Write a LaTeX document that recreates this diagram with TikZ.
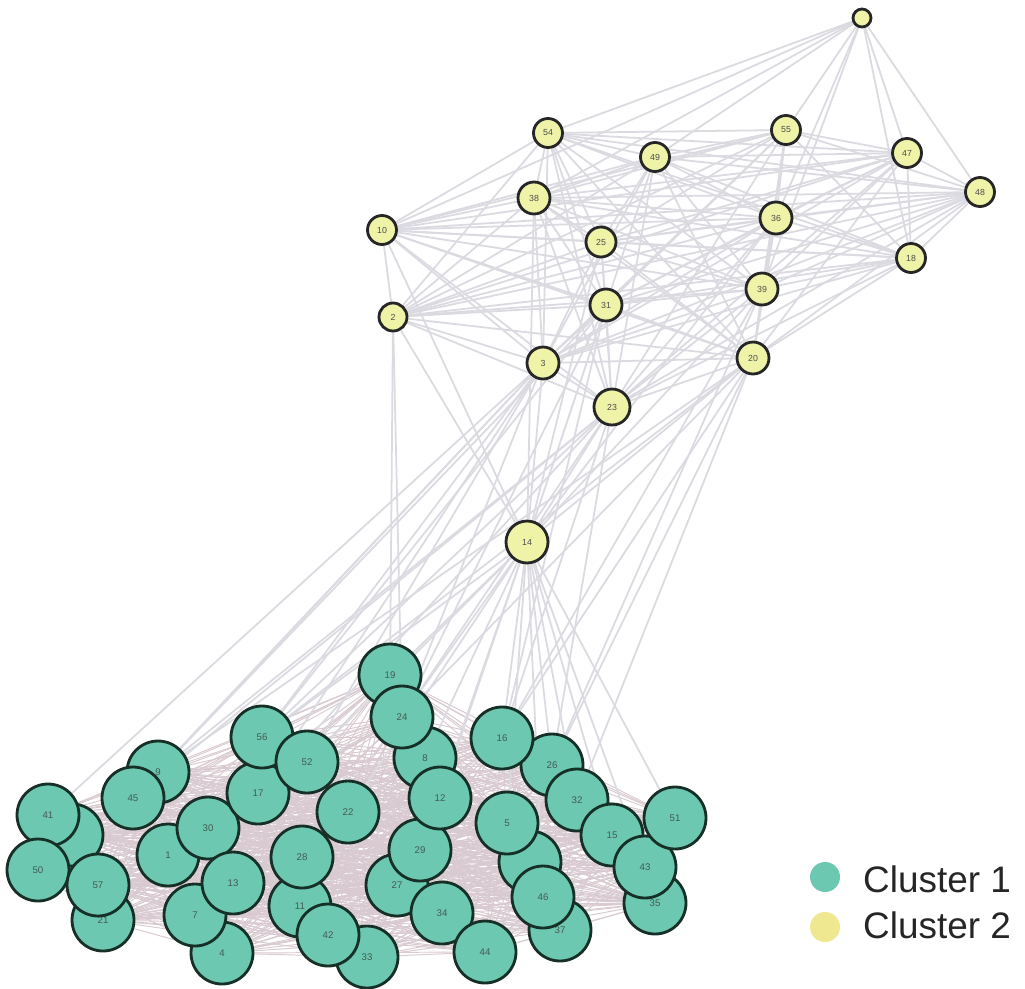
\documentclass[tikz,border=0pt]{standalone}
\usepackage{fontspec}
\setmainfont{Liberation Sans}
\usetikzlibrary{backgrounds}
\definecolor{tealc}{RGB}{108,200,176}
\definecolor{yelc}{RGB}{238,243,168}
\definecolor{legy}{RGB}{240,232,145}
\definecolor{bord}{RGB}{22,48,40}
\definecolor{edgec}{RGB}{218,218,224}
\definecolor{massc}{RGB}{216,202,208}
\begin{document}
\begin{tikzpicture}[x=0.02cm,y=-0.02cm,
  cone/.style={circle,draw=bord,line width=1.6pt,fill=tealc,minimum size=1.24cm,inner sep=0pt,font=\fontsize{5.5}{5.5}\selectfont,text=bord!80},
  ctwo/.style={circle,draw=black!85,line width=1.6pt,fill=yelc,minimum size=0.58cm,inner sep=0pt,font=\fontsize{5}{5}\selectfont,text=black!70},
  eline/.style={draw=edgec,line width=1pt},
  mline/.style={draw=massc,line width=0.55pt},
  legdot/.style={circle,minimum size=0.6cm,inner sep=0pt},
  legtxt/.style={anchor=base west,font=\fontsize{21}{21}\selectfont,text=black!85}]
\useasboundingbox (0,0) rectangle (1025,988);

% cluster 1 nodes (drawing order = stacking)
\foreach \n/\x/\y/\t in {53/72/835/, 41/48/815/41, 50/38/870/50, 21/103/920/21, 57/98/885/57,
  9/158/772/9, 45/133/798/45, 1/168/855/1, 4/222/953/4, 7/195/915/7, 30/208/828/30, 13/233/883/13,
  17/258/793/17, 56/262/737/56, 52/307/762/52, 22/348/812/22, 11/300/906/11, 28/302/857/28,
  33/367/957/33, 42/328/935/42, 19/390/675/19, 8/425/758/8, 24/402/717/24, 27/397/885/27,
  34/442/913/34, 29/420/850/29, 12/440/798/12, 44/485/952/44, 40/530/862/, 5/507/823/5,
  37/560/930/37, 46/543/897/46, 26/552/765/26, 16/502/738/16, 32/577/800/32, 15/612/835/15,
  35/655/903/35, 43/645/867/43, 51/675/818/51}
  \node[cone] (n\n) at (\x,\y) {\t};

% cluster 2 nodes
\foreach \n/\x/\y/\s in {6/862/18/0.36, 54/548/133/0.58, 49/655/157/0.58, 55/786/130/0.58,
  47/907/153/0.58, 48/980/192/0.58, 38/534/198/0.64, 10/382/230/0.58, 25/601/242/0.6,
  36/776/218/0.64, 18/911/258/0.58, 2/393/317/0.56, 31/606/305/0.64, 39/762/289/0.64,
  3/543/363/0.64, 20/753/358/0.64, 23/612/407/0.72, 14/527/542/0.84}
  \node[ctwo,minimum size=\s cm] (n\n) at (\x,\y) {\ifnum\n=6 \else\n\fi};

\def\blist{53,41,50,21,57,9,45,1,4,7,30,13,17,56,52,22,11,28,33,42,19,8,24,27,34,29,12,44,40,5,37,46,26,16,32,15,35,43,51}
\def\tlist{54,49,55,47,48,38,10,25,36,18,2,31,39,3,20,23}

\begin{pgfonlayer}{background}
  % dense edges inside cluster 1
  \foreach \a [count=\i] in \blist {
    \foreach \b [count=\j] in \blist {
      \ifnum\j>\i \draw[mline] (n\a) -- (n\b); \fi
    }
  }
  % dense edges inside cluster 2
  \foreach \a [count=\i] in \tlist {
    \foreach \b [count=\j] in \tlist {
      \ifnum\j>\i \draw[eline] (n\a) -- (n\b); \fi
    }
  }
  \foreach \b in {54,38,10,49,55,36,39,47,48,18}
    \draw[eline] (n6) -- (n\b);
  \foreach \b in {10,2,3,23,31,20,38,25,39,36}
    \draw[eline] (n14) -- (n\b);
  % edges between the clusters
  \foreach \b in {19,24,8,12,16,26,32,51,15,29,56,52,22,5,43,46}
    \draw[eline] (n14) -- (n\b);
  \foreach \b in {19,24}
    \draw[eline] (n2) -- (n\b);
  \foreach \b in {56,9,45,41,17,52,24}
    \draw[eline] (n3) -- (n\b);
  \foreach \b in {56,9,45,17,24,16,26}
    \draw[eline] (n23) -- (n\b);
  \foreach \b in {9,56,24,16}
    \draw[eline] (n31) -- (n\b);
  \foreach \b in {56,9,24,16,26,32}
    \draw[eline] (n20) -- (n\b);
  \foreach \b in {16,26}
    \draw[eline] (n39) -- (n\b);
\end{pgfonlayer}

% legend
\node[legdot,fill=tealc] (l1) at (825,877) {};
\node[legdot,fill=legy] (l2) at (825,927) {};
\node[legtxt] (t1) at (857,892) {Cluster 1};
\node[legtxt] (t2) at (857,938) {Cluster 2};
\end{tikzpicture}
\end{document}
